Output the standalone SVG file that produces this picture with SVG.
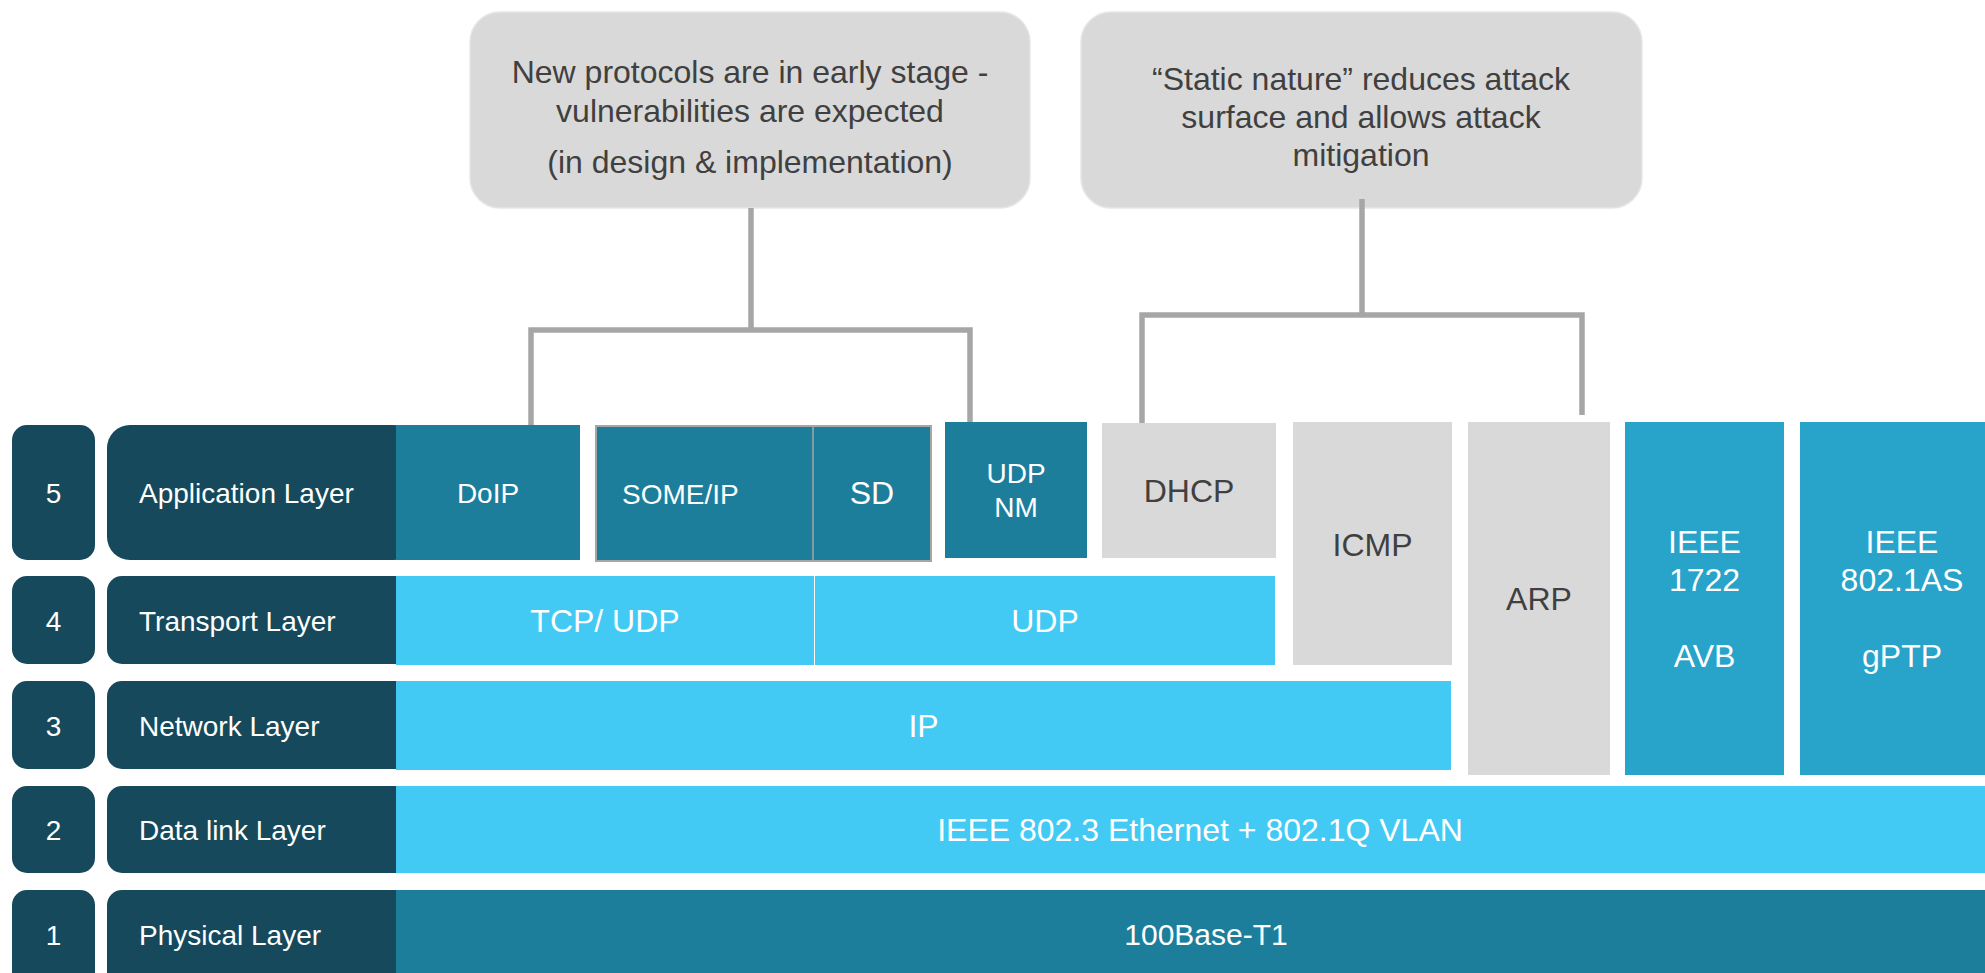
<svg xmlns="http://www.w3.org/2000/svg" width="1985" height="973" viewBox="0 0 1985 973">
  <style>
    text { font-family: "Liberation Sans", Arial, sans-serif; }
    .num { fill: #15495B; }
    .lbl { fill: #15495B; }
    .teal { fill: #1D7E9B; }
    .cyan { fill: #42CAF4; }
    .ieee { fill: #28A3CA; }
    .grey { fill: #D9D9D9; }
    .call { fill: #D9D9D9; stroke: #E6E6E6; stroke-width: 1.5; }
    .w { fill: #FFFFFF; }
    .d { fill: #404040; }
    .c { text-anchor: middle; }
    .f28 { font-size: 28px; }
    .f32 { font-size: 32px; }
    .conn { fill: none; stroke: #A6A6A6; stroke-width: 5.5; stroke-linejoin: miter; stroke-linecap: butt; }
  </style>

  <rect width="1985" height="973" fill="#FFFFFF"/>

  <!-- layer numbers -->
  <g id="num5"><rect class="num" x="12" y="425" width="83" height="135" rx="15"/><text class="w c f28" x="53.5" y="503">5</text></g>
  <g id="num4"><rect class="num" x="12" y="576" width="83" height="88" rx="15"/><text class="w c f28" x="53.5" y="631">4</text></g>
  <g id="num3"><rect class="num" x="12" y="681" width="83" height="88" rx="15"/><text class="w c f28" x="53.5" y="736">3</text></g>
  <g id="num2"><rect class="num" x="12" y="786" width="83" height="87" rx="15"/><text class="w c f28" x="53.5" y="840">2</text></g>
  <g id="num1"><rect class="num" x="12" y="890" width="83" height="100" rx="15"/><text class="w c f28" x="53.5" y="945">1</text></g>

  <!-- layer names -->
  <g id="layer5"><rect class="lbl" x="107" y="425" width="310" height="135" rx="23"/><text class="w f28" x="139" y="503">Application Layer</text></g>
  <g id="layer4"><rect class="lbl" x="107" y="576" width="310" height="88" rx="15"/><text class="w f28" x="139" y="631">Transport Layer</text></g>
  <g id="layer3"><rect class="lbl" x="107" y="681" width="310" height="88" rx="15"/><text class="w f28" x="139" y="736">Network Layer</text></g>
  <g id="layer2"><rect class="lbl" x="107" y="786" width="310" height="87" rx="15"/><text class="w f28" x="139" y="840">Data link Layer</text></g>
  <g id="layer1"><rect class="lbl" x="107" y="890" width="310" height="100" rx="15"/><text class="w f28" x="139" y="945">Physical Layer</text></g>

  <!-- application layer protocols -->
  <g id="doip"><rect class="teal" x="396" y="425" width="184" height="135"/><text class="w c f28" x="488" y="503">DoIP</text></g>
  <g id="someip">
    <rect class="teal" x="596" y="426" width="335" height="135" stroke="#A6A6A6" stroke-width="2"/>
    <line x1="813" y1="426" x2="813" y2="561" stroke="#A6A6A6" stroke-width="1.5"/>
    <text class="w f28" x="622" y="504">SOME/IP</text>
    <text class="w c f32" x="872" y="504">SD</text>
  </g>
  <g id="udpnm"><rect class="teal" x="945" y="422" width="142" height="136"/><text class="w c f28" x="1016" y="483">UDP</text><text class="w c f28" x="1016" y="517">NM</text></g>
  <g id="dhcp"><rect class="grey" x="1102" y="423" width="174" height="135"/><text class="d c f32" x="1189" y="502">DHCP</text></g>
  <g id="icmp"><rect class="grey" x="1293" y="422" width="159" height="243"/><text class="d c f32" x="1372.5" y="556">ICMP</text></g>
  <g id="arp"><rect class="grey" x="1468" y="422" width="142" height="353"/><text class="d c f32" x="1539" y="610">ARP</text></g>
  <g id="ieee1722"><rect class="ieee" x="1625" y="422" width="159" height="353"/>
    <text class="w c f32" x="1704.5" y="553">IEEE</text><text class="w c f32" x="1704.5" y="591">1722</text><text class="w c f32" x="1704.5" y="667">AVB</text></g>
  <g id="ieee8021as"><rect class="ieee" x="1800" y="422" width="204" height="353"/>
    <text class="w c f32" x="1902" y="553">IEEE</text><text class="w c f32" x="1902" y="591">802.1AS</text><text class="w c f32" x="1902" y="667">gPTP</text></g>

  <!-- transport / network / link / physical -->
  <g id="tcpudp"><rect class="cyan" x="396" y="576" width="418" height="89"/><text class="w c f32" x="605" y="632">TCP/ UDP</text></g>
  <g id="udp"><rect class="cyan" x="815" y="576" width="460" height="89"/><text class="w c f32" x="1045" y="632">UDP</text></g>
  <g id="ip"><rect class="cyan" x="396" y="681" width="1055" height="89"/><text class="w c f32" x="923.5" y="737">IP</text></g>
  <g id="ethernet"><rect class="cyan" x="396" y="786" width="1608" height="87"/><text class="w c f32" x="1200" y="841">IEEE 802.3 Ethernet + 802.1Q VLAN</text></g>
  <g id="phy"><rect class="teal" x="396" y="890" width="1608" height="100"/><text class="w c" style="font-size:30px" x="1206" y="945">100Base-T1</text></g>

  <!-- callouts -->
  <g id="callout-new">
    <rect class="call" x="470" y="12" width="560" height="196" rx="30"/>
    <text class="d c f32" x="750" y="83">New protocols are in early stage -</text>
    <text class="d c f32" x="750" y="122">vulnerabilities are expected</text>
    <text class="d c f32" x="750" y="173">(in design &amp; implementation)</text>
  </g>
  <g id="callout-static">
    <rect class="call" x="1081" y="12" width="561" height="196" rx="30"/>
    <text class="d c f32" x="1361" y="90">“Static nature” reduces attack</text>
    <text class="d c f32" x="1361" y="128">surface and allows attack</text>
    <text class="d c f32" x="1361" y="166">mitigation</text>
  </g>

  <!-- connectors -->
  <g id="connectors">
    <line class="conn" x1="751" y1="208" x2="751" y2="330"/>
    <polyline class="conn" points="531,425 531,330 970,330 970,422"/>
    <line class="conn" x1="1362" y1="199" x2="1362" y2="315"/>
    <polyline class="conn" points="1142,423 1142,315 1582,315 1582,415"/>
  </g>
</svg>
